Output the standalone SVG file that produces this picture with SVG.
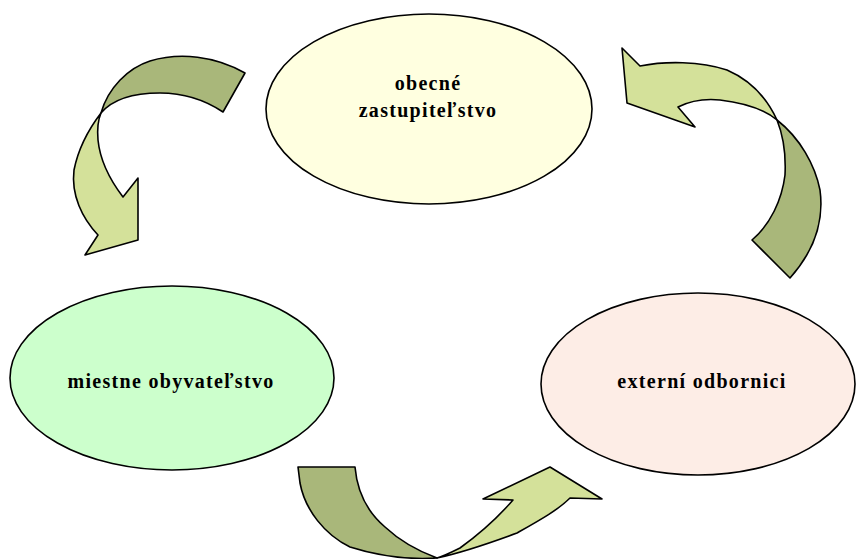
<svg xmlns="http://www.w3.org/2000/svg" width="856" height="559" viewBox="0 0 856 559">
<style>
.node{stroke:#000;stroke-width:1.6}
.lbl{font-family:"Liberation Serif",serif;font-weight:bold;font-size:20px;letter-spacing:1.3px;fill:#000;text-anchor:middle}
.back{fill:#A9B77A;stroke:#000;stroke-width:1.6;stroke-linejoin:round}
.front{fill:#D4E19A;stroke:#000;stroke-width:1.6;stroke-linejoin:round}
</style>
<rect width="856" height="559" fill="#fff"/>
<g id="connectors">
  <g id="arrow-top-left">
    <path class="back" d="M245,73 C215,56 180,52 150,61 C128,68 108,88 101,113 C112,100 130,93 160,93 C185,93 205,100 223,112 Z"/>
    <path class="front" d="M101,113 C88,130 78,150 74,170 C71,195 82,218 98,235 L85,255 L138,240 L138,178 L123,197 C110,180 100,160 98,140 C97,128 98,120 101,113 Z"/>
  </g>
  <g id="arrow-top-right">
    <path class="front" d="M622,48 L640,66 C665,61 700,61 727,70 C750,80 767,98 777,120 C765,110 745,103 720,100 C700,98 688,102 678,107 L695,127 L627,103 Z"/>
    <path class="back" d="M777,120 C800,138 815,165 820,190 C824,220 815,250 790,278 L752,240 C770,225 782,200 785,175 C786,155 783,135 777,120 Z"/>
  </g>
  <g id="arrow-bottom">
    <path class="back" d="M298,467 L355,467 C357,490 365,510 385,527 C400,541 418,551 437,558 C405,560 375,555 350,547 C325,535 305,510 300,483 Z"/>
    <path class="front" d="M437,558 C460,553 490,543 517,533 C540,520 558,510 570,498 L602,499 L550,467 L483,499 L513,500 C500,515 485,530 460,548 C452,552 444,556 437,558 Z"/>
  </g>
</g>
<g id="node-obecne">
  <ellipse class="node" cx="429" cy="109" rx="163" ry="95" fill="#FFFFE0"/>
  <text class="lbl" x="428" y="90">obecné</text>
  <text class="lbl" x="428" y="117">zastupiteľstvo</text>
</g>
<g id="node-miestne">
  <ellipse class="node" cx="172" cy="378" rx="162" ry="92" fill="#CCFFCC"/>
  <text class="lbl" x="171" y="388">miestne obyvateľstvo</text>
</g>
<g id="node-externi">
  <ellipse class="node" cx="698" cy="384" rx="157" ry="91" fill="#FDEDE6"/>
  <text class="lbl" x="702" y="388">externí odbornici</text>
</g>
</svg>
